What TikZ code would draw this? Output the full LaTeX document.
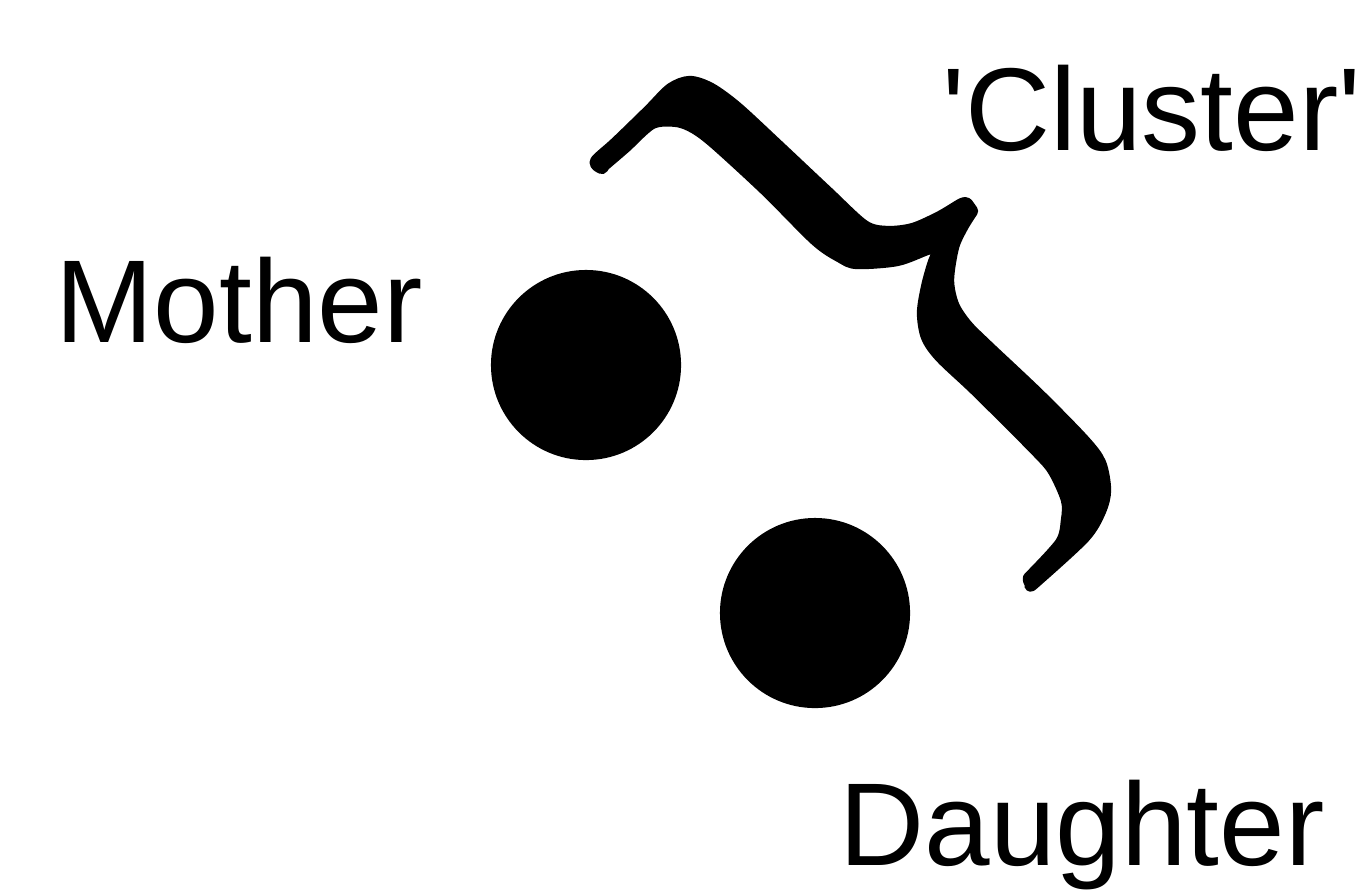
\documentclass[tikz,border=0pt]{standalone}
\usepackage{fontspec}
\setmainfont{Liberation Sans}
\usepackage{tikz}

\begin{document}
\begin{tikzpicture}[x=0.01cm, y=-0.01cm,
    ball/.style={circle, fill=black, inner sep=0pt, minimum size=1.9cm},
    lbl/.style={anchor=base west, inner sep=0pt, font=\fontsize{33.5}{40}\selectfont}]
  \useasboundingbox (0,0) rectangle (1368,893);
  \node[ball] (mother) at (586,365) {};
  \node[ball] (daughter) at (815,613) {};
  \node[lbl] (mothertext) at (55,342) {Mother};
  \node[lbl] (daughtertext) at (839,865) {Daughter};
  \node[lbl] (clustertext) at (942,150) {\textquotesingle Cluster\textquotesingle};
  % brace round the pair
  \filldraw[black, line width=3.5pt, line join=round]
    plot[smooth, tension=0.5] coordinates {(602,168) (597,165) (597,160) (616,143) (649,111) (671,89) (690,82) (711,89) (737,108) (777,145) (827,192) (864,226) (887,232) (913,229) (940,217) (962,204) (967,204)}
    -- plot[smooth, tension=0.5] coordinates {(972,211) (962,227) (953,247) (948,280) (953,305) (966,325) (986,345) (1039,395) (1084,441) (1100,463) (1105,490) (1100,511) (1084,537) (1035,582) (1031,584) (1029,580)}
    -- plot[smooth, tension=0.5] coordinates {(1029,578) (1061,543) (1067,520) (1067,500) (1054,471) (1037,451) (977,391) (941,357) (927,337) (923,313) (927,287) (934,262) (942,245)}
    -- plot[smooth, tension=0.5] coordinates {(942,245) (927,249) (897,260) (857,263) (841,257) (816,240) (766,190) (716,144) (695,128) (677,121) (652,123) (625,147) (604,165)}
    -- cycle;
\end{tikzpicture}
\end{document}
